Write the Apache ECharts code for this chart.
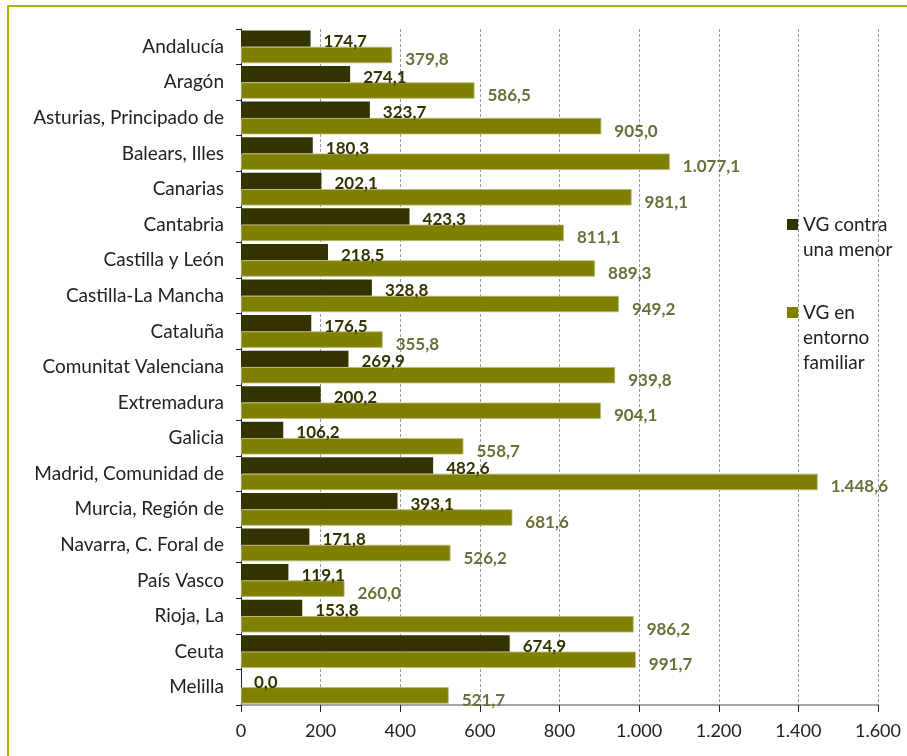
<!DOCTYPE html>
<html>
<head>
<meta charset="utf-8">
<script src="https://cdn.jsdelivr.net/npm/echarts@6/dist/echarts.min.js"></script>
<style>
html,body{margin:0;padding:0;background:#fff;}
#chart{width:907px;height:756px;}
</style>
</head>
<body>
<div id="chart"></div>
<script>
const categories = ["Andalucía","Aragón","Asturias, Principado de","Balears, Illes","Canarias","Cantabria","Castilla y León","Castilla-La Mancha","Cataluña","Comunitat Valenciana","Extremadura","Galicia","Madrid, Comunidad de","Murcia, Región de","Navarra, C. Foral de","País Vasco","Rioja, La","Ceuta","Melilla"];
const seriesNames = ["VG contra una menor","VG en entorno familiar"];
const legendLines = [["VG contra","una menor"],["VG en","entorno","familiar"]];
const contraMenor = [174.7,274.1,323.7,180.3,202.1,423.3,218.5,328.8,176.5,269.9,200.2,106.2,482.6,393.1,171.8,119.1,153.8,674.9,0.0];
const entornoFamiliar = [379.8,586.5,905.0,1077.1,981.1,811.1,889.3,949.2,355.8,939.8,904.1,558.7,1448.6,681.6,526.2,260.0,986.2,991.7,521.7];
const xTicks = [0,200,400,600,800,1000,1200,1400,1600];
const colors = ['#333300','#808000'];

function fmt(v, dec){
  const s = Number(v).toFixed(dec);
  let [i, d] = s.split('.');
  i = i.replace(/\B(?=(\d{3})+(?!\d))/g, '.');
  return d !== undefined ? i + ',' + d : i;
}

const FONT = "Lato, 'Noto Sans', sans-serif";
const chart = echarts.init(document.getElementById('chart'), null, {renderer:'canvas'});

const legendTops = [219, 307];
const legendGraphics = [];
seriesNames.forEach(function(n, k){
  legendGraphics.push({type:'rect',shape:{x:787,y:legendTops[k],width:11,height:11},style:{fill:colors[k]},silent:true});
  legendGraphics.push({type:'text',x:803,y:legendTops[k]-7,style:{text:legendLines[k].join('\n'),fill:'#222',font:'19px '+FONT,lineHeight:25,textVerticalAlign:'top'},silent:true});
});

chart.setOption({
  animation:false,
  backgroundColor:'#fff',
  textStyle:{fontFamily:FONT},
  graphic:[{type:'rect',shape:{x:8,y:6,width:920,height:780},style:{fill:'none',stroke:'#b0b000',lineWidth:2},silent:true,z:-1}].concat(legendGraphics),
  grid:{left:241,right:29,top:29,bottom:51,containLabel:false},
  legend:{show:false,data:seriesNames},
  xAxis:{
    type:'value', min:xTicks[0], max:xTicks[xTicks.length-1], interval:200,
    axisLine:{show:true,lineStyle:{color:'#888',width:1.5}},
    axisTick:{show:true,length:7,lineStyle:{color:'#222'}},
    axisLabel:{fontSize:18,color:'#222',margin:17,formatter:function(v){return fmt(v,0);},fontFamily:FONT},
    splitLine:{show:true,lineStyle:{color:'#999',type:[3,2],width:1}}
  },
  yAxis:{
    type:'category', data:categories, inverse:true,
    axisLine:{show:true,lineStyle:{color:'#222',width:1}},
    axisTick:{show:true,length:5,inside:false,lineStyle:{color:'#222'}},
    axisLabel:{fontSize:19,color:'#222',margin:17,fontFamily:FONT},
    splitLine:{show:false}
  },
  series:[
    {name:seriesNames[0], type:'bar', data:contraMenor, barGap:'0%', barCategoryGap:'8%',
     itemStyle:{color:colors[0]},
     label:{show:true,position:'right',distance:13,fontSize:17,fontWeight:'bold',color:'#333300',fontFamily:FONT,
       offset:[0,3],
       formatter:function(p){return fmt(p.value,1);}}},
    {name:seriesNames[1], type:'bar', data:entornoFamiliar, barGap:'0%', barCategoryGap:'8%',
     itemStyle:{color:colors[1],borderColor:'#b8b880',borderWidth:0.8},
     label:{show:true,position:'right',distance:13,fontSize:17,fontWeight:'bold',color:'#6e6e3c',fontFamily:FONT,
       offset:[0,5],
       formatter:function(p){return fmt(p.value,1);}}}
  ]
});
</script>
</body>
</html>
